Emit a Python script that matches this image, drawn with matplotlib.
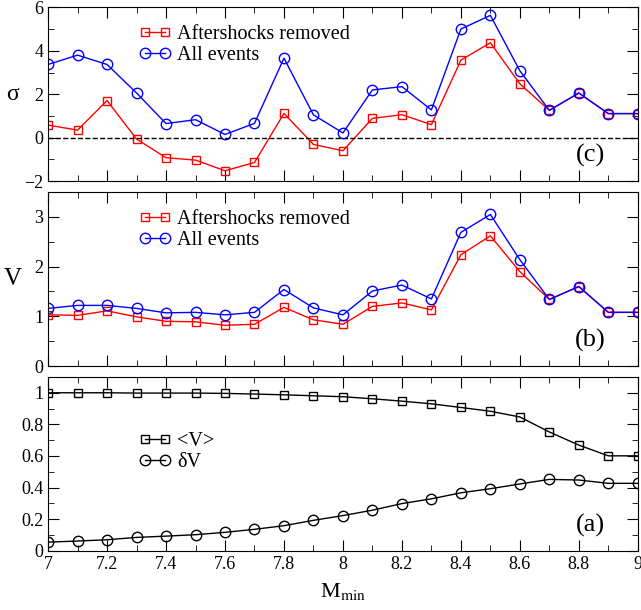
import matplotlib
matplotlib.use('Agg')
import matplotlib.pyplot as plt
import numpy as np
from matplotlib.ticker import MultipleLocator

plt.rcParams['font.family'] = ['Liberation Serif', 'DejaVu Serif']
plt.rcParams['mathtext.fontset'] = 'stix'

# 最小震级
m_min = [7.0, 7.1, 7.2, 7.3, 7.4, 7.5, 7.6, 7.7, 7.8, 7.9, 8.0,
         8.1, 8.2, 8.3, 8.4, 8.5, 8.6, 8.7, 8.8, 8.9, 9.0]

# (c) sigma
sigma_removed = [0.58, 0.35, 1.71, -0.06, -0.92, -1.03, -1.52, -1.14, 1.12, -0.31, -0.60,
                 0.89, 1.06, 0.60, 3.57, 4.37, 2.48, 1.26, 2.05, 1.11, 1.11]
sigma_all = [3.37, 3.80, 3.37, 2.06, 0.65, 0.83, 0.15, 0.66, 3.66, 1.05, 0.22,
             2.20, 2.35, 1.28, 5.00, 5.63, 3.08, 1.26, 2.06, 1.11, 1.11]

# (b) V
v_removed = [1.03, 1.02, 1.11, 0.99, 0.90, 0.89, 0.82, 0.84, 1.18, 0.93, 0.84,
             1.20, 1.27, 1.13, 2.24, 2.62, 1.90, 1.34, 1.60, 1.08, 1.08]
v_all = [1.16, 1.22, 1.22, 1.16, 1.07, 1.08, 1.03, 1.08, 1.54, 1.17, 1.03,
         1.51, 1.63, 1.35, 2.69, 3.05, 2.14, 1.34, 1.60, 1.08, 1.08]

# (a) <V> 和 δV
v_mean = [1.000, 1.000, 1.000, 0.998, 0.998, 0.998, 0.996, 0.992, 0.987, 0.981, 0.975,
          0.962, 0.947, 0.930, 0.907, 0.883, 0.847, 0.752, 0.669, 0.601, 0.601]
v_delta = [0.055, 0.062, 0.070, 0.085, 0.093, 0.102, 0.117, 0.136, 0.159, 0.193, 0.223,
           0.257, 0.299, 0.329, 0.367, 0.393, 0.423, 0.452, 0.448, 0.427, 0.427]

fig, axes = plt.subplots(3, 1, figsize=(6.41, 6.10), dpi=100, sharex=True)
fig.subplots_adjust(left=0.075, right=0.995, top=0.988, bottom=0.097, hspace=0.063)
ax_c, ax_b, ax_a = axes

sq = dict(marker='s', ms=6, mfc='none', lw=1)
ci = dict(marker='o', ms=7.5, mfc='none', lw=1)

# (c)
ax_c.plot(m_min, sigma_removed, color='red', mec='red', label='Aftershocks removed', **sq)
ax_c.plot(m_min, sigma_all, color='blue', mec='blue', label='All events', **ci)
ax_c.axhline(0, color='black', ls='--', lw=1)
ax_c.set_ylim(-2, 6)
ax_c.yaxis.set_major_locator(MultipleLocator(2))
ax_c.yaxis.set_minor_locator(MultipleLocator(1))
ax_c.set_ylabel('σ', fontsize=17, rotation=0, va='center')

# (b)
ax_b.plot(m_min, v_removed, color='red', mec='red', label='Aftershocks removed', **sq)
ax_b.plot(m_min, v_all, color='blue', mec='blue', label='All events', **ci)
ax_b.set_ylim(0, 3.5)
ax_b.yaxis.set_major_locator(MultipleLocator(1))
ax_b.yaxis.set_minor_locator(MultipleLocator(0.5))
ax_b.set_ylabel('V', fontsize=18, rotation=0, va='center')

# (a)
ax_a.plot(m_min, v_mean, color='black', mec='black', label='<V>', **sq)
ax_a.plot(m_min, v_delta, color='black', mec='black', label='δV', **ci)
ax_a.set_ylim(0, 1.1)
ax_a.yaxis.set_major_locator(MultipleLocator(0.2))
ax_a.yaxis.set_minor_locator(MultipleLocator(0.1))
ax_a.yaxis.set_major_formatter(plt.FuncFormatter(lambda v, p: '%g' % round(v, 1)))
ax_a.set_xlabel('M$_{\\rm min}$', fontsize=16, labelpad=6)

ax_a.set_xlim(7, 9)
ax_a.xaxis.set_major_locator(MultipleLocator(0.2))
ax_a.xaxis.set_minor_locator(MultipleLocator(0.1))
ax_a.xaxis.set_major_formatter(plt.FuncFormatter(lambda v, p: '%g' % round(v, 1)))

for ax, tag in zip(axes, ['(c)', '(b)', '(a)']):
    ax.tick_params(which='both', direction='in', top=True, right=True, labelsize=13)
    ax.tick_params(which='major', length=8)
    ax.tick_params(which='minor', length=4)
    ax.legend(loc='upper left', bbox_to_anchor=(0.137, 0.955), frameon=False, fontsize=14.5,
              numpoints=2, handlelength=1.6, handletextpad=0.3, labelspacing=0.1, borderpad=0)
    ax.yaxis.set_label_coords(-0.06, 0.5)
    ax.text(0.945, 0.08, tag, transform=ax.transAxes, fontsize=19, ha='right', va='bottom')

ax_a.get_legend().set_bbox_to_anchor((0.137, 0.74))

fig.savefig('out.png', dpi=100)
